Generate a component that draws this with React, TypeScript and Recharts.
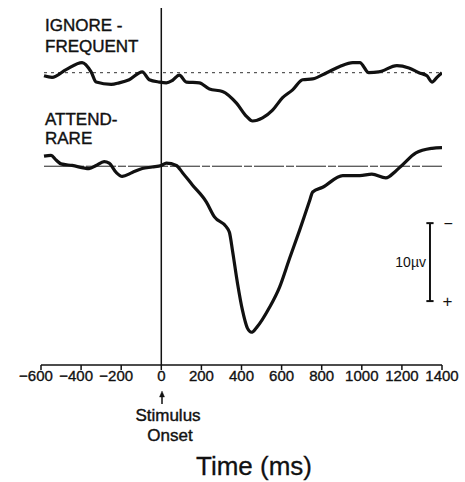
import { LineChart, Line, XAxis, YAxis, ReferenceLine } from 'recharts';

// Grand-average ERP traces, µV (positive plotted downward)
const ignoreTime = [-585, -545, -475, -395, -350, -325, -250, -210, -160, -95, -60, -10, 25, 55, 90, 125, 190, 240, 305, 375, 425, 455, 505, 555, 605, 655, 705, 755, 825, 890, 955, 990, 1035, 1085, 1175, 1235, 1285, 1325, 1350, 1375, 1400];
const ignoreUv = [0.4, 0.6, -0.4, -1.3, -0.1, 1.2, 1.5, 1.3, 0.9, -0.1, 0.9, 1.2, 1.3, 1.0, 0.3, 1.2, 1.3, 2.1, 2.4, 3.9, 5.6, 6.2, 5.8, 4.8, 3.2, 2.2, 0.9, 0.8, 0, -0.8, -1.3, -1.3, 0, -0.1, -0.9, -0.6, 0, 0.4, 1.2, 0.6, 0];

const attendTime = [-585, -550, -525, -500, -445, -360, -325, -285, -260, -225, -195, -145, -95, -45, 0, 25, 75, 105, 155, 225, 265, 325, 340, 355, 380, 405, 430, 450, 475, 540, 590, 640, 690, 740, 755, 805, 905, 990, 1050, 1120, 1170, 1200, 1270, 1350, 1400];
const attendUv = [-1.3, -1.4, -0.8, -0.3, -0.1, 0.3, -0.1, -0.6, -0.4, 0.8, 1.3, 0.8, 0.3, 0.1, -0.1, -0.4, -0.1, 0.8, 2.4, 4.6, 6.5, 7.8, 8.5, 10.8, 15.0, 18.5, 20.8, 21.3, 20.7, 18.1, 15.5, 11.8, 8.2, 4.4, 3.3, 2.7, 1.2, 1.2, 1.0, 1.5, 0.6, -0.1, -1.7, -2.3, -2.4];

const timeTicks = [-600, -400, -200, 0, 200, 400, 600, 800, 1000, 1200, 1400];

// vertical offset of the upper trace, µV
const IGNORE_OFFSET = -12;
// calibration bar: 10 µV
const CAL_TIME = 1340;
const CAL_TOP = 7.3;
const CAL_UV = 10;

const ignoreData = ignoreTime.map((t, i) => ({ t, v: ignoreUv[i] + IGNORE_OFFSET }));
const attendData = attendTime.map((t, i) => ({ t, v: attendUv[i] }));

const FONT = '"Liberation Sans", Arial, Helvetica, sans-serif';
const INK = '#111';

const TimeTick = ({ x, y, payload }: any) => {
  const v = payload.value as number;
  const label = v < 0 ? `\u2212${-v}` : `${v}`;
  return (
    <text
      x={v < 0 ? x - 5 : x}
      y={y + 11}
      textAnchor="middle"
      fontSize={15}
      fontFamily={FONT}
      fill={INK}
      stroke={INK}
      strokeWidth={0.35}
    >
      {label}
    </text>
  );
};

export default function App() {
  return (
    <div style={{ position: 'absolute', left: 0, top: 0, width: 465, height: 482, background: '#fff' }}>
      <LineChart width={465} height={482} margin={{ top: 8, right: 23, bottom: 87, left: 41 }}>
        <XAxis
          dataKey="t"
          type="number"
          domain={[-600, 1400]}
          ticks={timeTicks}
          allowDataOverflow
          height={30}
          tickSize={5}
          tickMargin={0}
          stroke={INK}
          strokeWidth={1.5}
          tick={<TimeTick />}
        />
        <YAxis hide type="number" domain={[-20.3, 25.5]} reversed allowDataOverflow />

        <ReferenceLine
          segment={[{ x: -585, y: IGNORE_OFFSET }, { x: 1400, y: IGNORE_OFFSET }]}
          stroke="#333"
          strokeWidth={1}
          strokeDasharray="3 4"
        />
        <ReferenceLine
          segment={[{ x: -585, y: 0 }, { x: 1400, y: 0 }]}
          stroke="#222"
          strokeWidth={1}
          strokeDasharray="30 2 8 2"
        />
        <ReferenceLine x={0} stroke={INK} strokeWidth={1.5} />

        {/* calibration bar */}
        <ReferenceLine
          segment={[{ x: CAL_TIME, y: CAL_TOP }, { x: CAL_TIME, y: CAL_TOP + CAL_UV }]}
          stroke={INK}
          strokeWidth={2}
          label={{ value: '10\u00b5v', position: 'left', offset: 4, fontSize: 14, fontFamily: FONT, fill: INK }}
        />
        <ReferenceLine
          segment={[{ x: CAL_TIME - 18, y: CAL_TOP }, { x: CAL_TIME + 18, y: CAL_TOP }]}
          stroke={INK}
          strokeWidth={2}
          label={{ value: '\u2212', position: 'right', offset: 10, fontSize: 16, fontFamily: FONT, fill: INK }}
        />
        <ReferenceLine
          segment={[{ x: CAL_TIME - 18, y: CAL_TOP + CAL_UV }, { x: CAL_TIME + 18, y: CAL_TOP + CAL_UV }]}
          stroke={INK}
          strokeWidth={2}
          label={{ value: '+', position: 'right', offset: 9, fontSize: 17, fontFamily: FONT, fill: INK }}
        />

        <Line
          data={ignoreData}
          dataKey="v"
          type="monotone"
          stroke={INK}
          strokeWidth={3.2}
          dot={false}
          isAnimationActive={false}
        />
        <Line
          data={attendData}
          dataKey="v"
          type="monotone"
          stroke={INK}
          strokeWidth={3.2}
          dot={false}
          isAnimationActive={false}
        />
      </LineChart>

      <svg
        width={465}
        height={482}
        style={{ position: 'absolute', left: 0, top: 0, pointerEvents: 'none' }}
        fontFamily={FONT}
        fill={INK}
        stroke={INK}
        strokeWidth={0.4}
      >
        <text x={45} y={31} fontSize={17}>IGNORE -</text>
        <text x={45} y={52} fontSize={17}>FREQUENT</text>
        <text x={45} y={125} fontSize={17}>ATTEND-</text>
        <text x={45} y={144} fontSize={17}>RARE</text>

        <line x1={162} y1={396} x2={162} y2={404} strokeWidth={1.5} />
        <polygon points="162,391 159.5,397 164.5,397" />
        <text x={168} y={421} fontSize={17} textAnchor="middle">Stimulus</text>
        <text x={170} y={441} fontSize={17} textAnchor="middle">Onset</text>
        <text x={254} y={475} fontSize={26} textAnchor="middle" strokeWidth={0.3}>Time (ms)</text>
      </svg>
    </div>
  );
}
